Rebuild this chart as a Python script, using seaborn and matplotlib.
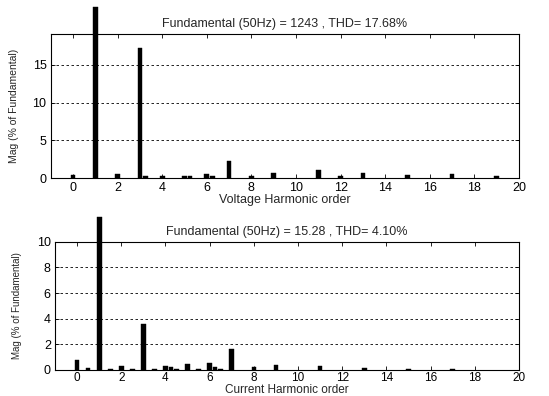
import numpy as np
import pandas as pd
import matplotlib
matplotlib.use("Agg")
import matplotlib.pyplot as plt
import seaborn as sns

# Voltage harmonic spectrum (% of fundamental)
v_order = [0, 1, 2, 3, 3.25, 4, 5, 5.25, 6, 6.25, 7, 8, 9, 11, 12, 13, 15, 17, 19]
v_mag = [0.44, 22.7, 0.5, 17.3, 0.2, 0.3, 0.3, 0.2, 0.5, 0.2, 2.2, 0.2, 0.6, 1.1, 0.2, 0.7, 0.4, 0.5, 0.2]

# Current harmonic spectrum (% of fundamental)
c_order = [0, 0.5, 1, 1.5, 2, 2.5, 3, 3.5, 4, 4.25, 4.5, 5, 5.5, 6, 6.25, 6.5, 7, 8, 9, 11, 13, 15, 17]
c_mag = [0.75, 0.15, 11.95, 0.1, 0.3, 0.1, 3.6, 0.1, 0.28, 0.2, 0.1, 0.5, 0.1, 0.55, 0.2, 0.1, 1.65, 0.2, 0.35, 0.3, 0.12, 0.05, 0.05]

v_title = "Fundamental (50Hz) = 1243 , THD= 17.68%"
c_title = "Fundamental (50Hz) = 15.28 , THD= 4.10%"
v_xlabel = "Voltage Harmonic order"
c_xlabel = "Current Harmonic order"
ylabel = "Mag (% of Fundamental)"

sns.set_style("white")
plt.rcParams['font.family'] = ['Liberation Sans', 'DejaVu Sans']

fig = plt.figure(figsize=(5.49, 3.96), dpi=100)
ax1 = fig.add_axes([0.0923, 0.5505, 0.853, 0.3636])
ax2 = fig.add_axes([0.1002, 0.0657, 0.845, 0.324])


def draw(ax, order, mag, ylim, yticks, title, xlabel, ylfs, ylpad, xlpad, xpad, xfs):
    df = pd.DataFrame({"order": order, "mag": mag})
    mind = np.min(np.diff(sorted(set(order))))
    sns.barplot(data=df, x="order", y="mag", native_scale=True, color="black",
                width=0.21 / mind, saturation=1, ax=ax, edgecolor="black", linewidth=0.3)
    for p in ax.patches:
        if p.get_height() > ylim[1]:
            p.set_clip_on(False)
    ax.set_xlim(-1, 20)
    ax.set_ylim(*ylim)
    ax.set_xticks(range(0, 21, 2))
    ax.set_yticks(yticks)
    ax.set_xticklabels([str(t) for t in range(0, 21, 2)], fontsize=xfs)
    ax.set_yticklabels([str(t) for t in yticks], fontsize=9)
    for y in yticks:
        if 0 < y < ylim[1]:
            ax.axhline(y, color="black", linestyle=(0, (3, 3)), linewidth=0.6, zorder=0)
    ax.tick_params(direction="in", length=3, width=0.6, top=True, right=True,
                   bottom=True, left=True, pad=3, colors="black")
    ax.tick_params(axis="x", pad=xpad)
    for s in ax.spines.values():
        s.set_color("black")
        s.set_linewidth(0.8)
    ax.set_title(title, fontsize=9, pad=5)
    ax.set_xlabel(xlabel, fontsize=xfs, labelpad=xlpad)
    ax.set_ylabel(ylabel, fontsize=ylfs, labelpad=ylpad)


draw(ax1, v_order, v_mag, (0, 19.1), [0, 5, 10, 15], v_title, v_xlabel, 7.5, 10, 0, 3, 9)
draw(ax2, c_order, c_mag, (0, 10), [0, 2, 4, 6, 8, 10], c_title, c_xlabel, 7, 11, 0, 1.5, 8.5)

fig.savefig("out.png", dpi=100)
